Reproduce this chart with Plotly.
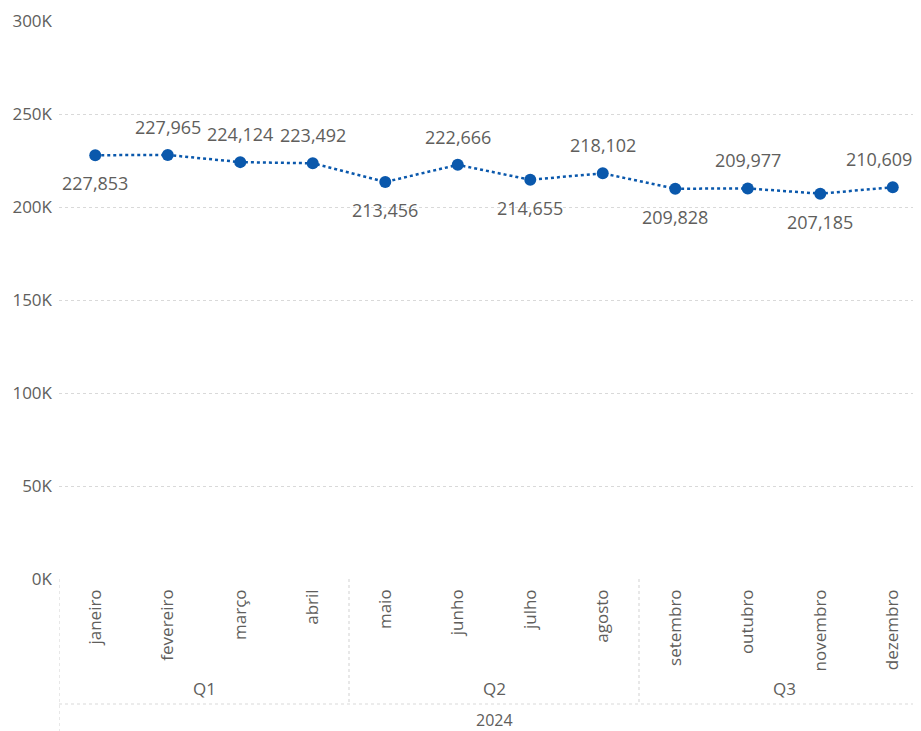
import plotly.graph_objects as go

months = ["janeiro", "fevereiro", "março", "abril", "maio", "junho",
          "julho", "agosto", "setembro", "outubro", "novembro", "dezembro"]
values = [227853, 227965, 224124, 223492, 213456, 222666,
          214655, 218102, 209828, 209977, 207185, 210609]
label_pos = ["below", "above", "above", "above", "below", "above",
             "below", "above", "below", "above", "below", "above"]
quarters = ["Q1", "Q2", "Q3"]
quarter_size = 4
year_label = "2024"
y_ticks = [0, 50000, 100000, 150000, 200000, 250000, 300000]
y_tick_text = ["0K", "50K", "100K", "150K", "200K", "250K", "300K"]

FONT = "Segoe UI, Open Sans, DejaVu Sans, sans-serif"
BLUE = "#0A58AC"
GRAY = "#605E5C"
GRID = "#D9D9D9"

x_idx = list(range(len(months)))

fig = go.Figure()
fig.add_trace(go.Scatter(
    x=x_idx, y=values, mode="lines+markers",
    line=dict(color=BLUE, width=2.5, dash="dot"),
    marker=dict(color=BLUE, size=12),
    hoverinfo="skip", cliponaxis=False,
))

annotations = []
n = len(values)
for i, (v, p) in enumerate(zip(values, label_pos)):
    annotations.append(dict(
        x=i, y=v, xref="x", yref="y", text=f"{v:,}", showarrow=False,
        yshift=28 if p == "above" else -28,
        xshift=-14 if i == n - 1 else 0,
        font=dict(family=FONT, size=18, color=GRAY),
    ))

H_PLOT = 558.0
def py(px_below):
    return -px_below / H_PLOT

shapes = []
for qi, q in enumerate(quarters):
    start = qi * quarter_size
    end = start + quarter_size - 1
    annotations.append(dict(
        x=(start + end) / 2, y=py(109), xref="x", yref="paper", text=q,
        showarrow=False, yanchor="middle",
        font=dict(family=FONT, size=17, color=GRAY),
    ))
    if qi > 0:
        shapes.append(dict(type="line", xref="x", yref="paper",
                           x0=start - 0.5, x1=start - 0.5, y0=0, y1=py(125),
                           line=dict(color=GRID, width=1.2, dash="dot")))
annotations.append(dict(
    x=(len(months) - 1) / 2, y=py(141), xref="x", yref="paper", text=year_label,
    showarrow=False, yanchor="middle",
    font=dict(family=FONT, size=16, color=GRAY),
))
shapes.append(dict(type="line", xref="paper", yref="paper",
                   x0=0, x1=1, y0=py(125), y1=py(125),
                   line=dict(color=GRID, width=1.2, dash="dot")))
shapes.append(dict(type="line", xref="x", yref="paper",
                   x0=-0.5, x1=-0.5, y0=0, y1=py(160),
                   line=dict(color=GRID, width=1.2, dash="dot")))

fig.update_layout(
    width=921, height=731,
    margin=dict(l=51, r=0, t=13, b=160),
    paper_bgcolor="white", plot_bgcolor="white",
    showlegend=False,
    font=dict(family=FONT, color=GRAY),
    annotations=annotations,
    shapes=shapes,
    xaxis=dict(
        range=[-0.5, 11.5], automargin=False,
        tickmode="array", tickvals=x_idx, ticktext=months,
        tickangle=-90, tickfont=dict(family=FONT, size=17, color=GRAY),
        showgrid=False, zeroline=False, showline=False, ticks="",
        ticklabelstandoff=6,
        fixedrange=True,
    ),
    yaxis=dict(
        range=[0, 300000], automargin=False,
        tickmode="array", tickvals=y_ticks, ticktext=y_tick_text,
        tickfont=dict(family=FONT, size=17, color=GRAY),
        showgrid=True, gridcolor=GRID, griddash="dot", gridwidth=1.2,
        zeroline=False, showline=False, ticks="", ticklabelstandoff=6,
        fixedrange=True,
    ),
)

fig.write_html("out.html")
